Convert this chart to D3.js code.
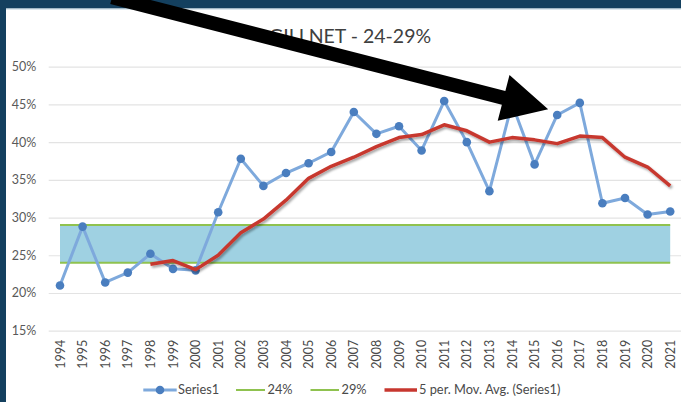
<!DOCTYPE html>
<html>
<head>
<meta charset="utf-8">
<script src="https://cdn.jsdelivr.net/npm/d3@7"></script>
<style>
  html, body { margin: 0; padding: 0; background: #ffffff; }
  svg { display: block; font-family: Lato, "Open Sans", sans-serif; }
</style>
</head>
<body>
<svg id="chart" width="681" height="402"></svg>
<script>
// ---- data ----
const years = [1994,1995,1996,1997,1998,1999,2000,2001,2002,2003,2004,2005,2006,2007,
               2008,2009,2010,2011,2012,2013,2014,2015,2016,2017,2018,2019,2020,2021];
const series1 = [21.0,28.8,21.4,22.7,25.2,23.2,23.0,30.7,37.8,34.2,35.9,37.2,38.7,44.0,
                 41.1,42.1,38.9,45.45,40.0,33.5,45.1,37.05,43.6,45.2,31.9,32.6,30.4,30.8];
const movAvgYears = years.slice(4);
const movAvg = [23.8,24.3,23.1,25.0,28.0,29.8,32.3,35.2,36.8,38.0,39.4,40.6,41.0,42.3,
                41.5,40.0,40.6,40.3,39.8,40.8,40.6,38.0,36.7,34.2];
const lowLimit = 24;
const highLimit = 29;
const yTicks = [15,20,25,30,35,40,45,50];
const titleText = "GILLNET - 24-29%";
const legendLabels = ["Series1", "24%", "29%", "5 per. Mov. Avg. (Series1)"];
// annotation arrow, in (category index, value) units
const arrowTail = {i: 2.3, v: 59.2};
const arrowTip  = {i: 21.6, v: 44.35};

// ---- setup ----
const svg = d3.select("#chart");
const W = 681, H = 402;

// page frame
svg.append("rect").attr("x",0).attr("y",0).attr("width",W).attr("height",H).attr("fill","#ffffff");
svg.append("rect").attr("x",0).attr("y",0).attr("width",W).attr("height",8.5).attr("fill","#14405f");
svg.append("rect").attr("x",0).attr("y",0).attr("width",6).attr("height",H).attr("fill","#14405f");
svg.append("line").attr("x1",6).attr("x2",W).attr("y1",9).attr("y2",9).attr("stroke","#b9cfdc").attr("stroke-width",1);

const x = d3.scaleBand().domain(years).range([48.7, 681.5]).padding(0);
const cx = d => x(d) + x.bandwidth()/2;
const y = d3.scaleLinear().domain([15,50]).range([330.7, 66.7]);
const xi = d3.scaleLinear().domain([0, years.length-1]).range([cx(years[0]), cx(years[years.length-1])]);

// defs
const defs = svg.append("defs");
const f = defs.append("filter").attr("id","shadow").attr("x","-10%").attr("y","-20%").attr("width","130%").attr("height","160%");
f.append("feDropShadow").attr("dx",1.5).attr("dy",2).attr("stdDeviation",1.2).attr("flood-color","#000").attr("flood-opacity",0.35);

// gridlines
const yAxis = d3.axisLeft(y).tickValues(yTicks).tickSize(-(681.5-48.7)).tickFormat(d => d + "%");
const gy = svg.append("g").attr("transform","translate(48.7,0)").call(yAxis);
gy.select(".domain").remove();
gy.selectAll(".tick line").attr("stroke","#e3e3e3").attr("stroke-width",1.2);
gy.selectAll(".tick text").attr("x",-12.5).attr("fill","#595959")
  .style("font-size","12.5px").style("font-family","Lato, sans-serif");

// x axis labels
const xAxis = d3.axisBottom(x).tickSize(0).tickFormat(d => d);
const gx = svg.append("g").attr("transform",`translate(0,${y(15)})`).call(xAxis);
gx.select(".domain").remove();
gx.selectAll(".tick text")
  .attr("transform","rotate(-90)")
  .attr("x",-9).attr("y",0).attr("dy","0.36em")
  .attr("text-anchor","end")
  .attr("fill","#4a4a4a")
  .style("font-size","12.5px").style("font-family","Lato, sans-serif");

// band between limits
const x0 = cx(years[0]), x1 = cx(years[years.length-1]);
svg.append("rect").attr("x",x0).attr("y",y(highLimit)).attr("width",x1-x0)
  .attr("height",y(lowLimit)-y(highLimit)).attr("fill","#9fd1e2");
[lowLimit, highLimit].forEach(v => {
  svg.append("line").attr("x1",x0).attr("x2",x1).attr("y1",y(v)).attr("y2",y(v))
    .attr("stroke","#8fc24f").attr("stroke-width",2);
});

// series1
const line = d3.line().x((d,i) => cx(years[i])).y(d => y(d));
svg.append("path").datum(series1).attr("d",line).attr("fill","none")
  .attr("stroke","#7ea9dc").attr("stroke-width",3).attr("stroke-linejoin","round");
svg.selectAll(".pt").data(series1).join("circle").attr("class","pt")
  .attr("cx",(d,i) => cx(years[i])).attr("cy",d => y(d)).attr("r",4.3).attr("fill","#4a7ebf");

// moving average
const maLine = d3.line().x((d,i) => cx(movAvgYears[i])).y(d => y(d)).curve(d3.curveLinear);
svg.append("path").datum(movAvg).attr("d",maLine).attr("fill","none")
  .attr("stroke","#c7372f").attr("stroke-width",3.5).attr("stroke-linejoin","round")
  .attr("filter","url(#shadow)");

// title
svg.append("text").attr("x",350).attr("y",43).attr("text-anchor","middle")
  .attr("fill","#404040").style("font-size","19.5px").style("font-family","Lato, sans-serif")
  .text(titleText);

// legend
const ly = 390;
const lg = svg.append("g").style("font-family","Lato, sans-serif").style("font-size","12.8px");
const legendItems = [
  {x1:143.3, x2:176.7, color:"#7ea9dc", w:3, marker:true, tx:178, label:legendLabels[0]},
  {x1:236, x2:265, color:"#8fc24f", w:2, marker:false, tx:267.5, label:legendLabels[1]},
  {x1:310.5, x2:339, color:"#8fc24f", w:2, marker:false, tx:341.5, label:legendLabels[2]},
  {x1:384.5, x2:417, color:"#c7372f", w:3.5, marker:false, tx:419, label:legendLabels[3]}
];
legendItems.forEach(it => {
  lg.append("line").attr("x1",it.x1).attr("x2",it.x2).attr("y1",ly).attr("y2",ly)
    .attr("stroke",it.color).attr("stroke-width",it.w);
  if (it.marker) lg.append("circle").attr("cx",(it.x1+it.x2)/2).attr("cy",ly).attr("r",4.3).attr("fill","#4a7ebf");
  lg.append("text").attr("x",it.tx).attr("y",ly).attr("dy","0.35em").attr("fill","#4a4a4a").text(it.label);
});

// arrow annotation
const tx0 = xi(arrowTail.i), ty0 = y(arrowTail.v);
const tx1 = xi(arrowTip.i), ty1 = y(arrowTip.v);
const dx = tx1 - tx0, dy = ty1 - ty0, L = Math.hypot(dx, dy);
const ux = dx / L, uy = dy / L, nx = -uy, ny = ux;
const headLen = 46, headHalf = 23.7, shaftHalf = 7;
const bx = tx1 - ux*headLen, by = ty1 - uy*headLen;
const pts = [
  [tx0 + nx*shaftHalf, ty0 + ny*shaftHalf],
  [bx + nx*shaftHalf, by + ny*shaftHalf],
  [bx + nx*headHalf, by + ny*headHalf],
  [tx1, ty1],
  [bx - nx*headHalf, by - ny*headHalf],
  [bx - nx*shaftHalf, by - ny*shaftHalf],
  [tx0 - nx*shaftHalf, ty0 - ny*shaftHalf]
];
svg.append("path").attr("d", d3.line()(pts) + "Z").attr("fill","#000000");
</script>
</body>
</html>
